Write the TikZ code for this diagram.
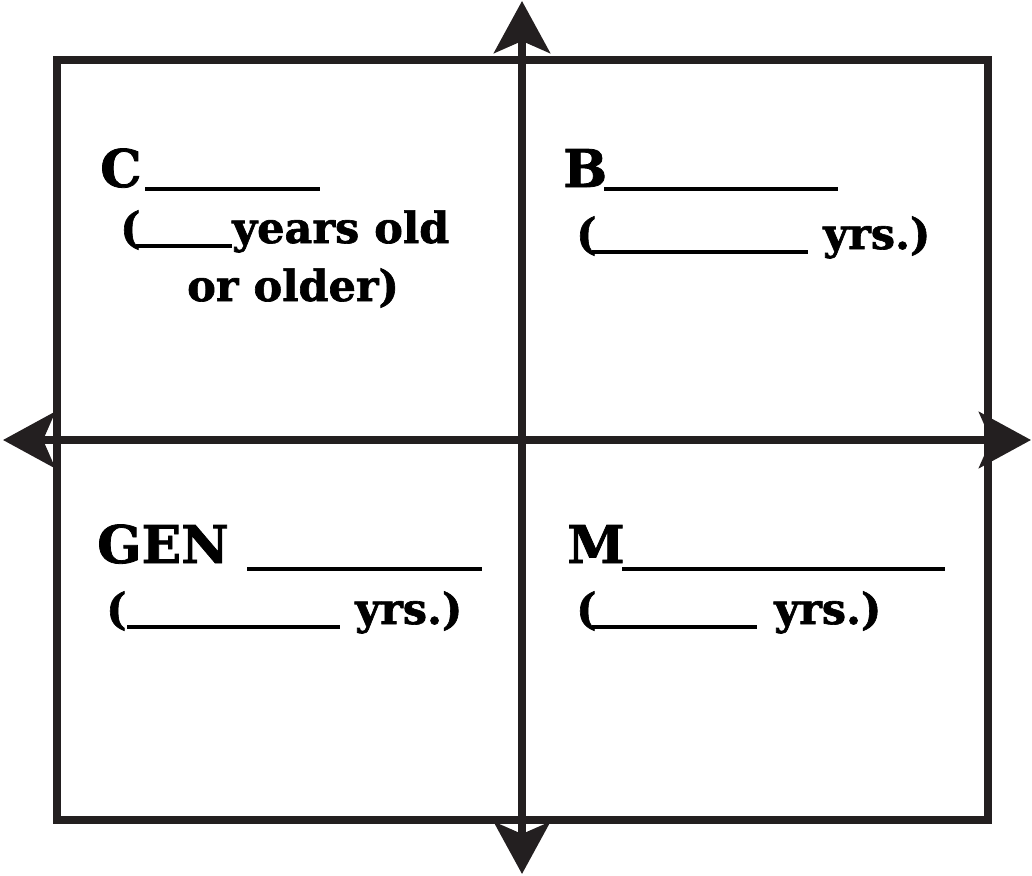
\documentclass[tikz,border=0pt]{standalone}
\usepackage{fontspec}
\setmainfont{DejaVu Serif}[BoldFeatures={FakeBold=1.5}]
\usetikzlibrary{arrows.meta}
\definecolor{linecol}{RGB}{35,31,32}
\begin{document}
\begin{tikzpicture}[x=1pt,y=-1pt,
  frame/.style={draw=linecol,line width=8pt,line join=miter},
  axis/.style={draw=linecol,line width=8pt,-{Stealth[length=52pt,width=56pt,inset=12pt]}},
  blank/.style={draw=black,line width=4pt},
  big/.style={inner sep=0pt,anchor=base west,font=\bfseries\fontsize{52}{60}\selectfont},
  small/.style={inner sep=0pt,anchor=base west,font=\bfseries\fontsize{43}{50}\selectfont}]
\useasboundingbox (0,0) rectangle (1032,875);
% frame
\coordinate (tl) at (57,60);
\coordinate (br) at (988,820);
\draw[frame] (tl) rectangle (br);
% axes
\coordinate (ctr) at (522,440);
\coordinate (top) at (522,1);
\coordinate (bot) at (522,874);
\coordinate (lft) at (3,440);
\coordinate (rgt) at (1031,440);
\draw[axis] (ctr) -- (top);
\draw[axis] (ctr) -- (bot);
\draw[axis] (ctr) -- (lft);
\draw[axis] (ctr) -- (rgt);
% quadrant C
\node[big] (c) at (100,187) {C};
\coordinate (c1) at (145,189); \coordinate (c2) at (320,189);
\draw[blank] (c1) -- (c2);
\node[small] (cp) at (120,243) {(};
\coordinate (cp1) at (136,246); \coordinate (cp2) at (232,246);
\draw[blank] (cp1) -- (cp2);
\node[small] (cy) at (232,243) {years old};
\node[small] (co) at (187,301) {or older)};
% quadrant B
\node[big] (b) at (563,187) {B};
\coordinate (b1) at (604,189); \coordinate (b2) at (838,189);
\draw[blank] (b1) -- (b2);
\node[small] (bp) at (576,249) {(};
\coordinate (bp1) at (592,252); \coordinate (bp2) at (808,252);
\draw[blank] (bp1) -- (bp2);
\node[small] (by) at (823,249) {yrs.)};
% quadrant GEN
\node[big] (g) at (97,563) {GEN};
\coordinate (g1) at (247,569); \coordinate (g2) at (482,569);
\draw[blank] (g1) -- (g2);
\node[small] (gp) at (106,624) {(};
\coordinate (gp1) at (127,627); \coordinate (gp2) at (340,627);
\draw[blank] (gp1) -- (gp2);
\node[small] (gy) at (355,624) {yrs.)};
% quadrant M
\node[big] (m) at (567,563) {M};
\coordinate (m1) at (622,569); \coordinate (m2) at (945,569);
\draw[blank] (m1) -- (m2);
\node[small] (mp) at (576,624) {(};
\coordinate (mp1) at (592,627); \coordinate (mp2) at (757,627);
\draw[blank] (mp1) -- (mp2);
\node[small] (my) at (774,624) {yrs.)};
\end{tikzpicture}
\end{document}
